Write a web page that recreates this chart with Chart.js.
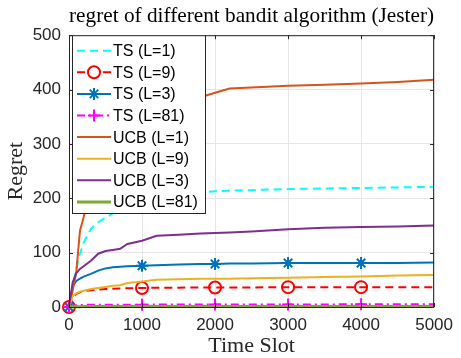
<!DOCTYPE html>
<html>
<head>
<meta charset="utf-8">
<script src="https://cdn.jsdelivr.net/npm/chart.js@4.4.1/dist/chart.umd.min.js"></script>
<style>
  html, body { margin: 0; padding: 0; background: #fff; }
  #wrap { width: 461px; height: 358px; }
</style>
</head>
<body>
<div id="wrap"><canvas id="regret-chart" width="461" height="358"></canvas></div>
<script>
const timeSlots = [0, 50, 100, 150, 200, 300, 400, 500, 600, 700, 800, 1000, 1200, 1500, 1800, 2000, 2200, 2500, 3000, 3500, 4000, 4500, 5000];
const markerSlots = [0, 1000, 2000, 3000, 4000];

const tsL1 = [0, 40, 70, 98, 118, 144, 156, 164, 172, 180, 186, 195, 201, 207, 211, 213, 214, 215, 217, 218, 219, 220, 221];
const tsL9 = [0, 18, 24, 27, 29, 31, 32, 33, 33.5, 34, 34.5, 35, 35.5, 35.5, 36, 36, 36, 36, 36.5, 36.5, 36.5, 36.5, 36.5];
const tsL3 = [0, 38, 48, 52, 56, 61, 67, 71, 73, 74, 75, 76, 77, 78, 79, 79, 80, 80, 81, 81, 81, 81, 82];
const tsL81 = [0, 2, 3, 3.5, 4, 4, 4, 4, 4, 4, 4.2, 4.3, 4.4, 4.5, 4.5, 4.6, 4.6, 4.7, 4.8, 4.8, 4.9, 5, 5];
const ucbL1 = [0, 30, 65, 140, 165, 220, 260, 290, 310, 325, 337, 352, 363, 375, 386, 394, 402, 404, 407, 409, 411, 414, 418];
const ucbL9 = [0, 20, 25, 28, 30, 33, 35, 37, 39, 40, 44, 47, 50, 51, 52, 52, 52, 53, 54, 55, 56, 58, 59];
const ucbL3 = [0, 45, 62, 70, 75, 85, 98, 103, 105, 107, 116, 122, 131, 133, 135, 136, 137, 139, 143, 146, 147, 148, 150];
const ucbL81 = [0, 0.3, 0.5, 0.6, 0.7, 0.8, 0.8, 0.9, 0.9, 1, 1, 1, 1, 1, 1, 1, 1, 1, 1, 1, 1, 1, 1];

const seriesLabels = ['TS (L=1)', 'TS (L=9)', 'TS (L=3)', 'TS (L=81)', 'UCB (L=1)', 'UCB (L=9)', 'UCB (L=3)', 'UCB (L=81)'];

const axisColor = '#262626';
const serif = '"Liberation Serif", "Times New Roman", serif';
const sans = '"Liberation Sans", Arial, sans-serif';

function toPoints(values) {
  return values.map((v, i) => ({ x: timeSlots[i], y: v }));
}

function markerRadius(r) {
  return (ctx) => markerSlots.includes(timeSlots[ctx.dataIndex]) ? r : 0;
}

function makeDataset(label, values, color, extra) {
  return Object.assign({
    label,
    data: toPoints(values),
    borderColor: color,
    backgroundColor: color,
    borderWidth: 2,
    pointRadius: 0,
    pointHoverRadius: 0,
    clip: 10,
  }, extra);
}

const datasets = [
  makeDataset(seriesLabels[0], tsL1, '#00FFFF', { borderDash: [8, 5] }),
  makeDataset(seriesLabels[1], tsL9, '#FF0000', {
    borderDash: [8, 5], pointStyle: 'circle', pointRadius: markerRadius(6),
    pointBorderWidth: 2, pointBackgroundColor: 'rgba(0,0,0,0)', pointBorderColor: '#FF0000',
  }),
  makeDataset(seriesLabels[2], tsL3, '#0072BD', {
    pointStyle: 'star', pointRadius: markerRadius(6), pointBorderWidth: 2, pointBorderColor: '#0072BD',
  }),
  makeDataset(seriesLabels[3], tsL81, '#FF00FF', {
    borderDash: [8, 4, 2, 4], pointStyle: 'cross', pointRadius: markerRadius(6),
    pointBorderWidth: 2, pointBorderColor: '#FF00FF',
  }),
  makeDataset(seriesLabels[4], ucbL1, '#D95319'),
  makeDataset(seriesLabels[5], ucbL9, '#EDB120'),
  makeDataset(seriesLabels[6], ucbL3, '#7E2F8E'),
  makeDataset(seriesLabels[7], ucbL81, '#77AC30', { borderWidth: 3 }),
];
// MATLAB draws later lines on top
datasets.forEach((d, i) => { d.order = datasets.length - i; });

// box around the axes with inward ticks
const axesBox = {
  id: 'axesBox',
  afterDatasetsDraw(chart) {
    const { ctx, chartArea: a, scales } = chart;
    ctx.save();
    ctx.strokeStyle = axisColor;
    ctx.lineWidth = 1;
    ctx.strokeRect(a.left + 0.5, a.top + 0.5, a.right - a.left - 1, a.bottom - a.top);
    ctx.beginPath();
    scales.x.ticks.forEach((t) => {
      const px = Math.round(scales.x.getPixelForValue(t.value)) + 0.5;
      ctx.moveTo(px, a.bottom); ctx.lineTo(px, a.bottom - 4);
      ctx.moveTo(px, a.top); ctx.lineTo(px, a.top + 4);
    });
    scales.y.ticks.forEach((t) => {
      const py = Math.round(scales.y.getPixelForValue(t.value)) + 0.5;
      ctx.moveTo(a.left, py); ctx.lineTo(a.left + 4, py);
      ctx.moveTo(a.right, py); ctx.lineTo(a.right - 4, py);
    });
    ctx.stroke();
    ctx.restore();
  },
};

// legend box in the upper left corner of the axes
const insideLegend = {
  id: 'insideLegend',
  afterDraw(chart) {
    const { ctx, chartArea: a } = chart;
    const left = a.left + 3, top = a.top, w = 133, rowH = 21.6;
    const h = rowH * chart.data.datasets.length + 5;
    ctx.save();
    ctx.fillStyle = '#fff';
    ctx.fillRect(left, top, w, h);
    ctx.strokeStyle = axisColor;
    ctx.lineWidth = 1;
    ctx.strokeRect(left + 0.5, top + 0.5, w, h);
    chart.data.datasets.forEach((d, i) => {
      const y = top + 15.5 + i * rowH;
      ctx.strokeStyle = d.borderColor;
      ctx.lineWidth = d.borderWidth;
      ctx.setLineDash(d.borderDash || []);
      ctx.beginPath();
      ctx.moveTo(left + 5, y);
      ctx.lineTo(left + 39, y);
      ctx.stroke();
      ctx.setLineDash([]);
      if (d.pointStyle) {
        ctx.lineWidth = 2;
        ctx.strokeStyle = d.borderColor;
        ctx.fillStyle = '#fff';
        Chart.helpers.drawPoint(ctx, {
          pointStyle: d.pointStyle, radius: 6, rotation: 0, borderWidth: 2,
        }, left + 22, y);
      }
      ctx.fillStyle = '#000';
      ctx.font = '16px ' + sans;
      ctx.textBaseline = 'middle';
      ctx.fillText(d.label, left + 41, y + 1);
    });
    ctx.restore();
  },
};

new Chart(document.getElementById('regret-chart'), {
  type: 'line',
  data: { datasets },
  options: {
    responsive: false,
    animation: false,
    layout: { padding: { left: 0, right: 22, top: 0, bottom: 0 } },
    plugins: {
      legend: { display: false },
      tooltip: { enabled: false },
      title: {
        display: true,
        fullSize: false,
        text: 'regret of different bandit algorithm (Jester)',
        color: '#000',
        font: { family: serif, size: 22, weight: 'normal', lineHeight: 1.1 },
        padding: { top: 4, bottom: 7 },
      },
    },
    scales: {
      x: {
        type: 'linear',
        min: 0,
        max: 5000,
        ticks: {
          stepSize: 1000,
          color: axisColor,
          padding: 8,
          font: { family: sans, size: 17 },
          maxRotation: 0,
          callback: (v) => String(v),
        },
        grid: { color: '#e6e6e6', tickLength: 0 },
        border: { display: false },
        title: {
          display: true,
          text: 'Time Slot',
          color: axisColor,
          font: { family: serif, size: 22, lineHeight: 1.1 },
          padding: { top: 0, bottom: 0 },
        },
        afterFit(scale) { scale.height = 51; },
      },
      y: {
        min: 0,
        max: 500,
        ticks: {
          stepSize: 100,
          color: axisColor,
          padding: 8,
          font: { family: sans, size: 17 },
          callback: (v) => String(v),
        },
        grid: { color: '#e6e6e6', tickLength: 0 },
        border: { display: false },
        title: {
          display: true,
          text: 'Regret',
          color: axisColor,
          font: { family: serif, size: 22, lineHeight: 1.1 },
          padding: { top: 4, bottom: 0 },
        },
        afterFit(scale) { scale.width = 69; },
      },
    },
  },
  plugins: [axesBox, insideLegend],
});
</script>
</body>
</html>
